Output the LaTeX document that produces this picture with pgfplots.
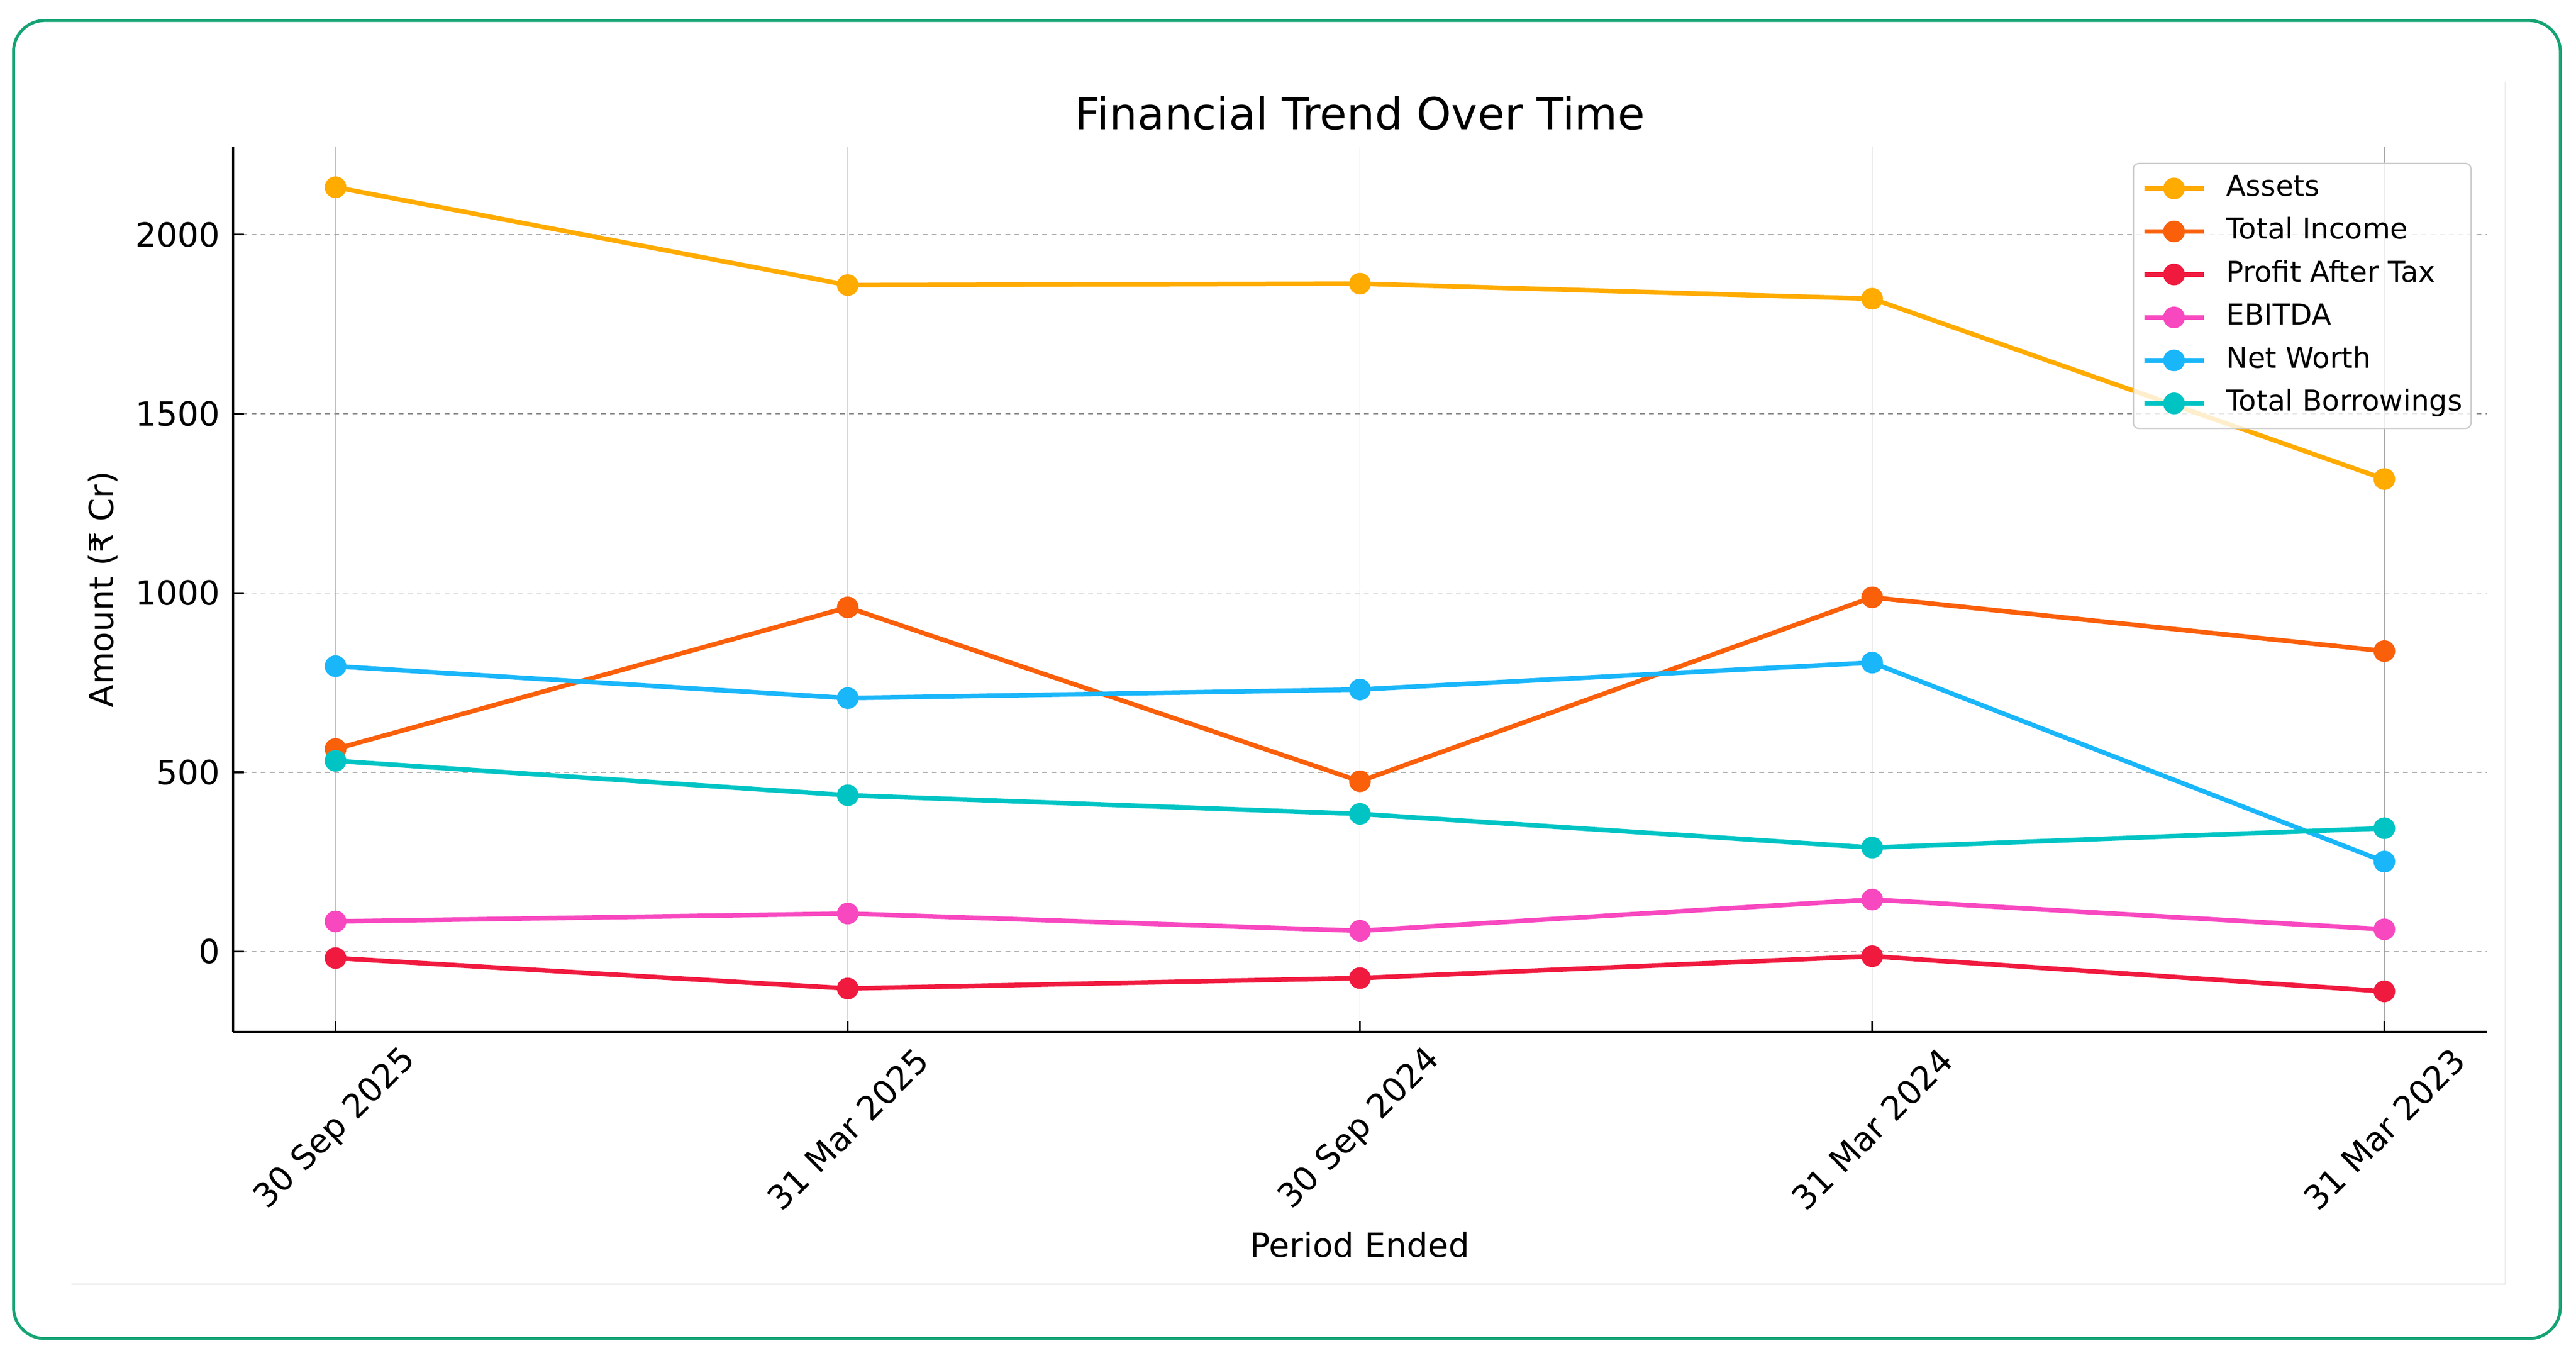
\documentclass[border=0pt]{standalone}
\usepackage{fontspec}
\setmainfont{DejaVu Sans}
\usepackage{pgfplots}
\pgfplotsset{compat=1.18}

\definecolor{framegreen}{HTML}{14A374}
\definecolor{cAssets}{HTML}{FFAB00}
\definecolor{cIncome}{HTML}{FA5F0A}
\definecolor{cPAT}{HTML}{F01A3F}
\definecolor{cEBITDA}{HTML}{F848C0}
\definecolor{cNetWorth}{HTML}{1AB6FA}
\definecolor{cBorrow}{HTML}{00C4C4}

\pgfplotsset{
  series/.style={color=#1, line width=1.7pt, mark=*, mark size=3.15pt,
    mark options={solid, draw=none, fill=#1}},
}

\begin{document}
\begin{tikzpicture}
\useasboundingbox (0,0) rectangle (952.6pt,502.2pt);
% faint figure edge and card frame
\draw[black!7, line width=0.6pt] (26.4pt,27.2pt) -- (926.4pt,27.2pt) -- (926.4pt,472pt);
\draw[framegreen, line width=1.1pt, rounded corners=11.5pt] (5pt,7.2pt) rectangle (946.8pt,494.6pt);

\begin{axis}[
  at={(86.2pt,120.6pt)}, anchor=south west,
  scale only axis, width=833.4pt, height=327.2pt,
  xmin=-0.2, xmax=4.2, ymin=-224, ymax=2244,
  axis x line*=bottom, axis y line*=left,
  axis line style={line width=0.7pt, -},
  xtick={0,1,2,3,4},
  xticklabels={30 Sep 2025, 31 Mar 2025, 30 Sep 2024, 31 Mar 2024, 31 Mar 2023},
  ytick={0,500,1000,1500,2000},
  tick align=inside, major tick length=3.9pt,
  tick style={black, line width=0.7pt},
  grid=major,
  x grid style={black!30, line width=0.35pt, solid},
  y grid style={black!45, line width=0.35pt, dash pattern=on 1.8pt off 1.6pt},
  /pgf/number format/assume math mode=true,
  /pgf/number format/1000 sep={},
  tick label style={font=\fontsize{12.3}{14}\selectfont},
  yticklabel style={anchor=east, inner sep=0pt, xshift=-4.6pt},
  xticklabel style={yshift=-36pt, rotate=45, anchor=center, inner sep=0pt},
  title={Financial Trend Over Time},
  every axis title/.style={at={(axis description cs:0.5,1.0196)}, anchor=base,
    font=\fontsize{16.3}{19}\selectfont},
  xlabel={Period Ended},
  xlabel style={at={(axis description cs:0.5,-0.2549)}, anchor=base,
    font=\fontsize{12.3}{14}\selectfont},
  ylabel={Amount (₹ Cr)},
  ylabel style={at={(axis description cs:-0.0578,0.5)}, anchor=center,
    font=\fontsize{12.3}{14}\selectfont},
  legend cell align=left,
  legend image code/.code={
    \draw[mark repeat=2, mark phase=2, fill opacity=1]
      plot coordinates {(0pt,0pt) (11pt,0pt) (22pt,0pt)};
  },
  legend style={
    at={(rel axis cs:1,1)}, anchor=north east, xshift=-5.6pt, yshift=-5.8pt,
    draw=black!20, line width=0.5pt, fill=white, fill opacity=0.8,
    text opacity=1, draw opacity=1, rounded corners=2pt,
    inner xsep=3.2pt, inner ysep=1.3pt,
    font=\fontsize{10.6}{12.5}\selectfont,
    nodes={inner xsep=0pt, inner ysep=2.7pt, text height=8pt, text depth=2.5pt},
    /tikz/every odd column/.append style={column sep=7.5pt},
  },
]

\addplot[series=cAssets] coordinates {
  (0,2132) (1,1859) (2,1863) (3,1821) (4,1318)
};
\addlegendentry{Assets}

\addplot[series=cIncome] coordinates {
  (0,565) (1,960) (2,475) (3,988) (4,838)
};
\addlegendentry{Total Income}

\addplot[series=cPAT] coordinates {
  (0,-18) (1,-103) (2,-74) (3,-13) (4,-111)
};
\addlegendentry{Profit After Tax}

\addplot[series=cEBITDA] coordinates {
  (0,84) (1,106) (2,58) (3,145) (4,62)
};
\addlegendentry{EBITDA}

\addplot[series=cNetWorth] coordinates {
  (0,796) (1,707) (2,731) (3,806) (4,251)
};
\addlegendentry{Net Worth}

\addplot[series=cBorrow] coordinates {
  (0,532) (1,436) (2,384) (3,290) (4,344)
};
\addlegendentry{Total Borrowings}

\end{axis}
\end{tikzpicture}
\end{document}
